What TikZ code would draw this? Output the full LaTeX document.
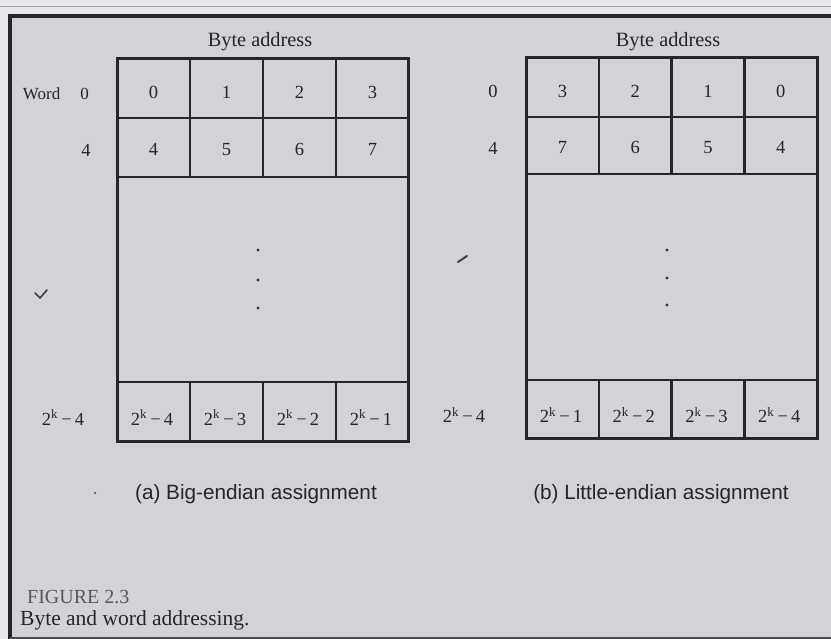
\documentclass[tikz,border=0pt]{standalone}
\usepackage{fontspec}
\setmainfont{Liberation Serif}
\newfontfamily\capsans{Liberation Sans}
\definecolor{paper}{RGB}{213,209,217}
\definecolor{paperlight}{RGB}{233,231,236}
\newcommand{\tk}[1]{2\textsuperscript{k}\,−\,#1}
\begin{document}
\begin{tikzpicture}[x=1pt,y=-1pt,
  ink/.style={draw=black!85},
  cell/.style={ink, line width=2.2pt, minimum width=73pt, minimum height=59pt, inner sep=0pt},
  lbl/.style={font=\fontsize{18.5}{18.5}\selectfont, inner sep=0pt, anchor=base, black!85},
  head/.style={font=\fontsize{20.3}{20.3}\selectfont, inner sep=0pt, anchor=base, black!85},
  captext/.style={font=\capsans\fontsize{20.7}{20.7}\selectfont, inner sep=0pt, anchor=base, black!85},
  dotn/.style={circle, fill=black!80, inner sep=0pt, minimum size=3.2pt},
  outer/.style={ink, line width=3pt}]
\useasboundingbox (0,0) rectangle (831,639);
\fill[paperlight] (0,0) rectangle (831,639);
\fill[paper] (10,15) rectangle (831,639);
\draw[black!35, line width=1pt] (0,7) -- (831,7);
\draw[black!85, line width=4pt] (831,16) -- (10,16) -- (10,639);
\draw[black!70, line width=2pt] (10,638) -- (831,638);

% ---------- left panel (big-endian) ----------
\node[head] (bal) at (260,47) {Byte address};
\foreach \i/\t in {1/0,2/1,3/2,4/3}{
  \node[cell, minimum height=59pt] (la\i) at ({117+73*(\i-1)+36.5},88.5) {};
  \node[lbl] (lat\i) at ({117+73*(\i-1)+36.5},99) {\t};
}
\foreach \i/\t in {1/4,2/5,3/6,4/7}{
  \node[cell, minimum height=59pt] (lb\i) at ({117+73*(\i-1)+36.5},147.5) {};
  \node[lbl] (lbt\i) at ({117+73*(\i-1)+36.5},156) {\t};
}
\node[cell, minimum width=292pt, minimum height=205pt] (lbig) at (263,279.5) {};
\foreach \i/\t in {1/4,2/3,3/2,4/1}{
  \node[cell, minimum height=59pt] (lc\i) at ({117+73*(\i-1)+36.5},411.5) {};
  \node[lbl] (lct\i) at ({117+73*(\i-1)+35},425) {\tk{\t}};
}
\draw[outer] (117,59) rectangle (408,441);
\node[lbl, anchor=base east, font=\fontsize{17}{17}\selectfont] (lw0) at (89,100) {Word\hspace{20pt}0};
\node[lbl, anchor=base] (lw4) at (86,157) {4};
\node[lbl] (lwk) at (63,425) {\tk{4}};
\node[dotn] (ld1) at (258,250) {};
\node[dotn] (ld2) at (258,280) {};
\node[dotn] (ld3) at (258,308) {};
\node[captext] (capa) at (256,499) {(a) Big-endian assignment};

% ---------- right panel (little-endian) ----------
\node[head] (bar) at (668,47) {Byte address};
\foreach \i/\t in {1/3,2/2,3/1,4/0}{
  \node[cell, minimum height=59pt] (ra\i) at ({526+72.75*(\i-1)+36.4},87.5) {};
  \node[lbl] (rat\i) at ({526+72.75*(\i-1)+36.4},98) {\t};
}
\foreach \i/\t in {1/7,2/6,3/5,4/4}{
  \node[cell, minimum height=57pt] (rb\i) at ({526+72.75*(\i-1)+36.4},145.5) {};
  \node[lbl] (rbt\i) at ({526+72.75*(\i-1)+36.4},154) {\t};
}
\node[cell, minimum width=291pt, minimum height=206pt] (rbig) at (671.5,277) {};
\foreach \i/\t in {1/1,2/2,3/3,4/4}{
  \node[cell, minimum height=58pt] (rc\i) at ({526+72.75*(\i-1)+36.4},409) {};
  \node[lbl] (rct\i) at ({526+72.75*(\i-1)+35},423) {\tk{\t}};
}
\draw[outer] (526,58) rectangle (817,438);
\node[lbl] (rw0) at (493,98) {0};
\node[lbl] (rw4) at (493,155) {4};
\node[lbl] (rwk) at (464,423) {\tk{4}};
\node[dotn] (rd1) at (667,250) {};
\node[dotn] (rd2) at (667,278) {};
\node[dotn] (rd3) at (667,305) {};
\node[captext] (capb) at (661,499) {(b) Little-endian assignment};

% ---------- figure caption ----------
\node[font=\fontsize{20}{20}\selectfont, inner sep=0pt, anchor=base west, black!65] (fig) at (27,603) {FIGURE 2.3};
\node[font=\fontsize{21.5}{21.5}\selectfont, inner sep=0pt, anchor=base west, black!85] (figt) at (20,625) {Byte and word addressing.};

% stray scan marks
\draw[black!75, line width=1.6pt, line cap=round] (35,293) -- (40,298) -- (47,290);
\draw[black!75, line width=2pt, line cap=round] (458,262) -- (467,256);
\fill[black!70] (95,493) circle (1.2pt);
\end{tikzpicture}
\end{document}
